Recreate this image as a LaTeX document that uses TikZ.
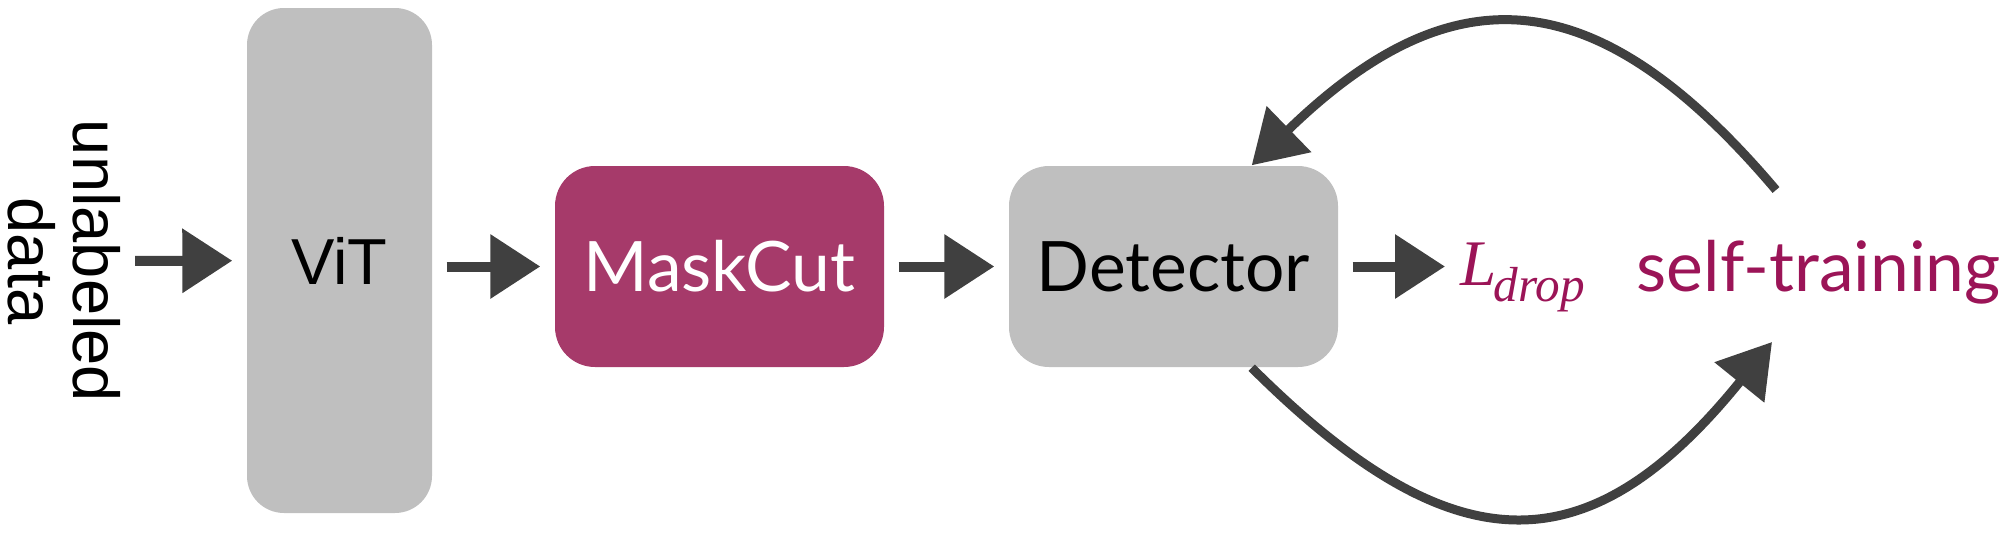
\RequirePackage{fix-cm}
\documentclass[tikz,border=0pt]{standalone}
\usepackage{fontspec}
\setmainfont{Liberation Sans}
\newfontfamily\lato{Lato}
\newfontfamily\lserif{Liberation Serif}
\usetikzlibrary{arrows.meta}
\definecolor{boxgray}{HTML}{BFBFBF}
\definecolor{cutred}{HTML}{A63A6A}
\definecolor{selfred}{HTML}{9B1457}
\definecolor{chalk}{HTML}{404040}
\begin{document}
\begin{tikzpicture}[
  box/.style={rounded corners=4mm, inner sep=0pt, minimum height=2.01cm, minimum width=3.29cm, font=\lato\fontsize{19.8}{19.8}\selectfont},
  arr/.style={line width=1mm, chalk, -{Triangle[length=5mm, width=6.2mm]}, shorten <=1.4mm, shorten >=1.4mm},
  loop/.style={line width=0.9mm, chalk, -{Triangle[length=5.2mm, width=6.2mm]}},
  every node/.style={font=\fontsize{18.5}{18.5}\selectfont}
]
\useasboundingbox (0,0) rectangle (20,5.33);

  \node[rotate=-90, align=center, inner sep=0pt] (data) at (0.64,2.72) {unlabeled\\data};
  \node[box, fill=boxgray, rounded corners=3.7mm, minimum width=1.85cm, minimum height=5.05cm, font=\fontsize{18.5}{18.5}\selectfont] (vit) at (3.395,2.725) {ViT};
  \node[box, fill=cutred, text=white] (mask) at (7.195,2.665) {MaskCut};
  \node[box, fill=boxgray] (det) at (11.735,2.665) {Detector};
  \node[anchor=base west, inner sep=0pt, text=selfred, font=\lserif\itshape\fontsize{18.5}{18.5}\selectfont] (loss) at (14.6,2.48) {L\kern-0.3mm\raisebox{-1.6mm}{\fontsize{14}{14}\selectfont drop}};
  \node[anchor=base west, inner sep=0pt, text=selfred, font=\lato\fontsize{19.8}{19.8}\selectfont] (self) at (16.36,2.42) {self-training};

  \draw[arr] (data) -- (vit);
  \draw[arr] (vit.east |- mask) -- (mask);
  \draw[arr] (mask) -- (det);
  \draw[arr, shorten >=1.5mm] (det) -- (loss.west |- det);

  % self-training loop
  \coordinate (loop top) at (17.76,3.43);
  \coordinate (loop bot) at (17.72,1.91);
  \draw[loop] (loop top) .. controls (15.99,5.52) and (14.55,5.65) .. ([xshift=-8.7mm]det.north east);
  \draw[loop] ([xshift=-8.7mm]det.south east) .. controls (14.51,-0.33) and (15.87,-0.38) .. (loop bot);
\end{tikzpicture}
\end{document}
